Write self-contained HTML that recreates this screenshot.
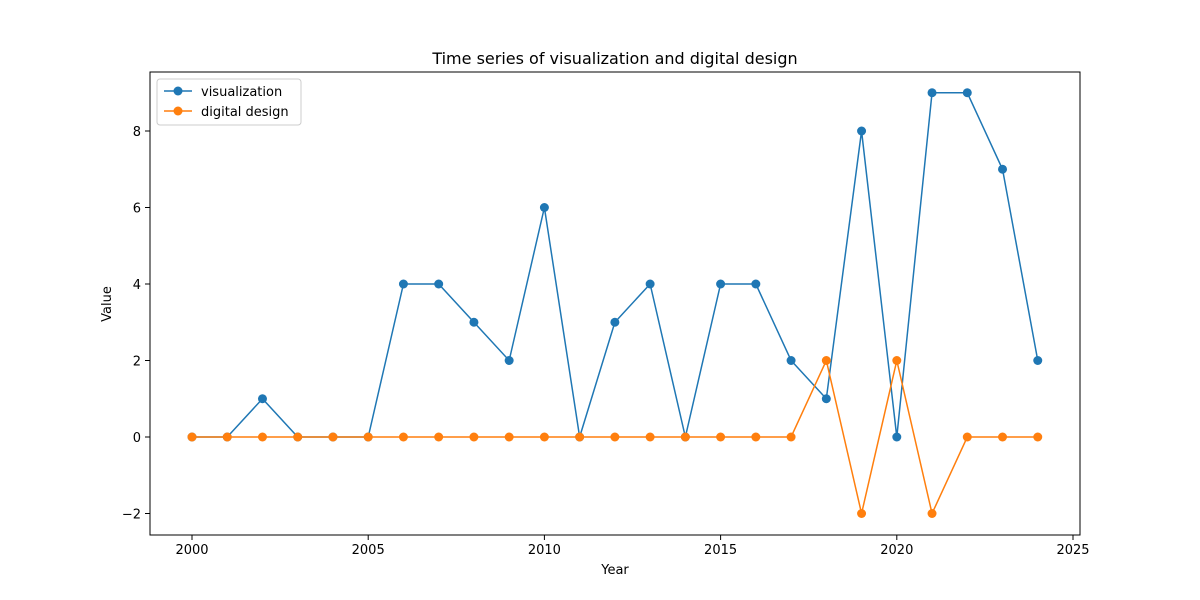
<!DOCTYPE html>
<html>
<head>
<meta charset="utf-8">
<style>
  html,body{margin:0;padding:0;background:#fff;}
  svg{display:block;font-family:"DejaVu Sans","Liberation Sans",sans-serif;}
</style>
</head>
<body>
<svg id="chart" width="1200" height="600" viewBox="0 0 1200 600">
  <rect x="0" y="0" width="1200" height="600" fill="#fff"/>
  <text x="615" y="64" text-anchor="middle" font-size="16" fill="#000">Time series of visualization and digital design</text>
  <g id="grid"></g>
  <g id="series"></g>
  <rect x="150" y="72" width="930" height="463" fill="none" stroke="#000" stroke-width="1"/>
  <text x="615" y="574" text-anchor="middle" font-size="13">Year</text>
  <text transform="translate(111,304) rotate(-90)" text-anchor="middle" font-size="13">Value</text>
  <g>
    <rect x="157" y="79" width="144" height="46" rx="3" fill="#fff" stroke="#ccc"/>
    <g>
      <line x1="164" y1="91" x2="192" y2="91" stroke="#1f77b4" stroke-width="1.5"/>
      <circle cx="178" cy="91" r="4.5" fill="#1f77b4"/>
      <text x="201" y="96" font-size="13">visualization</text>
    </g>
    <g>
      <line x1="164" y1="111" x2="192" y2="111" stroke="#ff7f0e" stroke-width="1.5"/>
      <circle cx="178" cy="111" r="4.5" fill="#ff7f0e"/>
      <text x="201" y="116" font-size="13">digital design</text>
    </g>
  </g>
</svg>
<script>
const years = [2000,2001,2002,2003,2004,2005,2006,2007,2008,2009,2010,2011,2012,2013,2014,2015,2016,2017,2018,2019,2020,2021,2022,2023,2024];
const visualization = [0,0,1,0,0,0,4,4,3,2,6,0,3,4,0,4,4,2,1,8,0,9,9,7,2];
const digitalDesign = [0,0,0,0,0,0,0,0,0,0,0,0,0,0,0,0,0,0,2,-2,2,-2,0,0,0];
const xTicks = [2000,2005,2010,2015,2020,2025];
const yTicks = [-2,0,2,4,6,8];

const NS = "http://www.w3.org/2000/svg";
const x = v => 192 + (v - 2000) * 35.24;
const y = v => 437 - v * 38.25;
const grid = document.getElementById('grid');
const seriesG = document.getElementById('series');

function mk(tag, attrs, parent){
  const el = document.createElementNS(NS, tag);
  for (const k in attrs) el.setAttribute(k, attrs[k]);
  parent.appendChild(el);
  return el;
}

xTicks.forEach(t => {
  const g = mk('g', {}, grid);
  
  
  mk('line', {x1:x(t), y1:535, x2:x(t), y2:540, stroke:'#000'}, g);
  const tx = mk('text', {x:x(t), y:554, 'text-anchor':'middle', 'font-size':13}, g);
  tx.textContent = t;
});
yTicks.forEach(t => {
  const g = mk('g', {}, grid);
  
  
  mk('line', {x1:145, y1:y(t), x2:150, y2:y(t), stroke:'#000'}, g);
  const tx = mk('text', {x:141, y:y(t)+5, 'text-anchor':'end', 'font-size':13}, g);
  tx.textContent = t < 0 ? '\u2212' + Math.abs(t) : t;
});

function drawSeries(vals, color, name){
  const g = mk('g', {}, seriesG);
  
  
  const pts = vals.map((v,i) => x(years[i]) + ',' + y(v)).join(' ');
  const pl = mk('polyline', {points:pts, fill:'none', stroke:color, 'stroke-width':1.5}, g);
  
  
  vals.forEach((v,i) => {
    const c = mk('circle', {cx:x(years[i]), cy:y(v), r:4.5, fill:color}, g);
    
    
  });
}
drawSeries(visualization, '#1f77b4', 'visualization');
drawSeries(digitalDesign, '#ff7f0e', 'digital-design');
</script>
</body>
</html>
